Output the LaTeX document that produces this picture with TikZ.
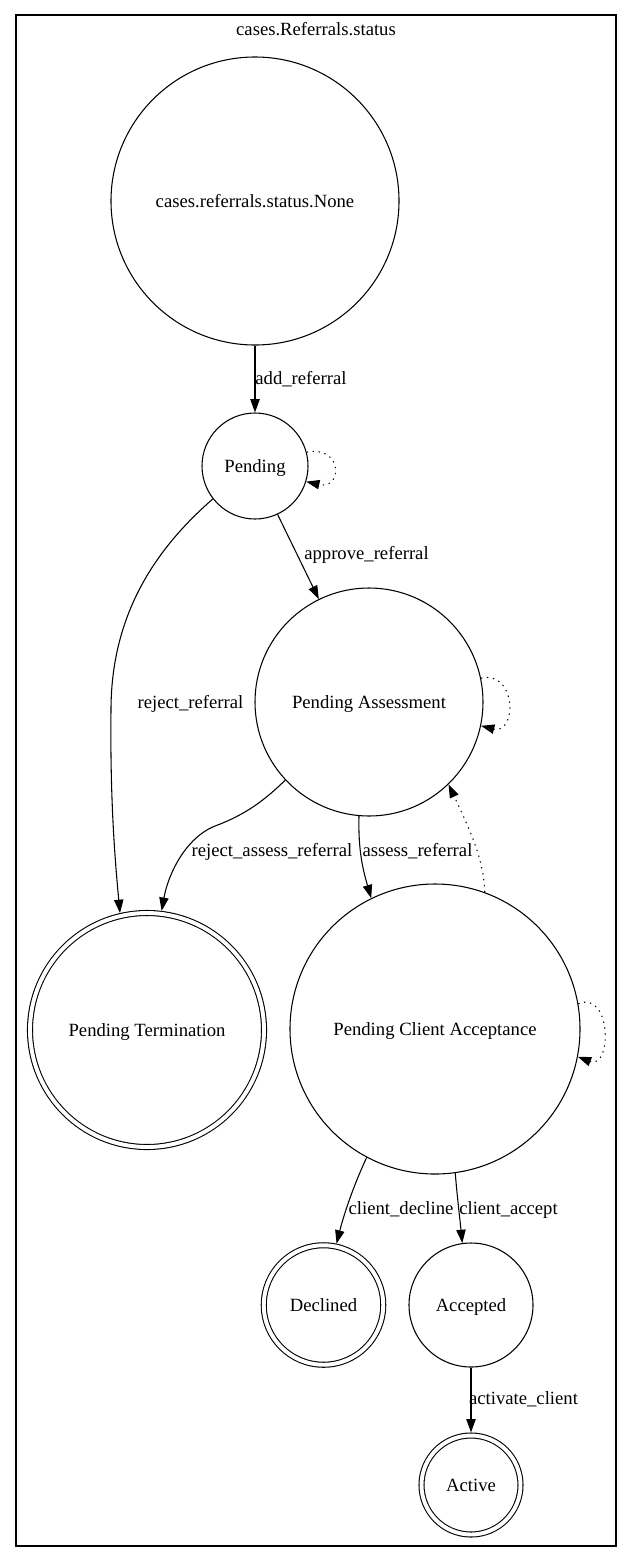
\documentclass[tikz,border=0pt]{standalone}
\usepackage{fontspec}
\setmainfont{Liberation Serif}
\usetikzlibrary{arrows.meta}
\begin{document}
\begin{tikzpicture}[x=0.75pt,y=-0.75pt,
  every node/.style={font=\fontsize{14pt}{16pt}\selectfont, text height=12pt, text depth=3pt},
  state/.style={circle, draw, line width=0.8pt, inner sep=0pt},
  final/.style={state, double, double distance=2.95pt, outer sep=2.3pt},
  lbl/.style={inner sep=0pt},
  tr/.style={line width=0.8pt, -{Triangle[length=10pt,width=7pt]}},
  selftr/.style={tr, dash pattern=on 1pt off 3.5pt},
]
\useasboundingbox (0,0) rectangle (631,1563);
\draw[line width=0.8pt] (16,15) rectangle (616,1546);
\node[lbl] (title) at (316,30) {cases.Referrals.status};

\node[state, minimum size=216pt] (none) at (255,201) {cases.referrals.status.None};
\node[state, minimum size=79.5pt] (pending) at (255,466) {Pending};
\node[state, minimum size=171pt] (pa) at (369,702) {Pending Assessment};
\node[final, minimum size=175.5pt] (pt) at (147,1030) {Pending Termination};
\node[state, minimum size=217.5pt] (pca) at (435,1029) {Pending Client Acceptance};
\node[final, minimum size=89.6pt] (declined) at (323.5,1305) {Declined};
\node[state, minimum size=93pt] (accepted) at (471,1305) {Accepted};
\node[final, minimum size=74.25pt] (active) at (471,1485) {Active};

\draw[tr] (none) -- (pending) node[lbl] at (301,378) {add\_referral};
\draw[selftr] (pending.15) .. controls (343,445) and (343,490) .. (pending.-17);
\draw[tr] (pending.-65) -- (pa.116) node[lbl] at (366.5,553) {approve\_referral};
\draw[tr] (pending.218) .. controls (160,545) and (111,610) .. (111,710)
  .. controls (110,800) and (115,860) .. (pt.103)
  node[lbl] at (190.5,702) {reject\_referral};
\draw[selftr] (pa.12) .. controls (517,670) and (517,735) .. (pa.-12.5);
\draw[tr] (pa.223) .. controls (265,800) and (245,815) .. (215,826)
  .. controls (185,838) and (168,875) .. (pt.83)
  node[lbl] at (272,850) {reject\_assess\_referral};
\draw[tr] (pa.-95.5) .. controls (358,850) and (363,870) .. (pca.116)
  node[lbl] at (417.5,850) {assess\_referral};
\draw[selftr] (pca.70) .. controls (484,860) and (470,830) .. (pa.-46.4);
\draw[selftr] (pca.10.6) .. controls (612,990) and (612,1070) .. (pca.-11.5);
\draw[tr] (pca.-118) .. controls (356,1180) and (345,1210) .. (declined.78)
  node[lbl] at (401,1208) {client\_decline};
\draw[tr] (pca.-82) .. controls (457,1195) and (460,1220) .. (accepted.98)
  node[lbl] at (508.5,1208) {client\_accept};
\draw[tr] (accepted) -- (active) node[lbl] at (523.5,1398) {activate\_client};
\end{tikzpicture}
\end{document}
